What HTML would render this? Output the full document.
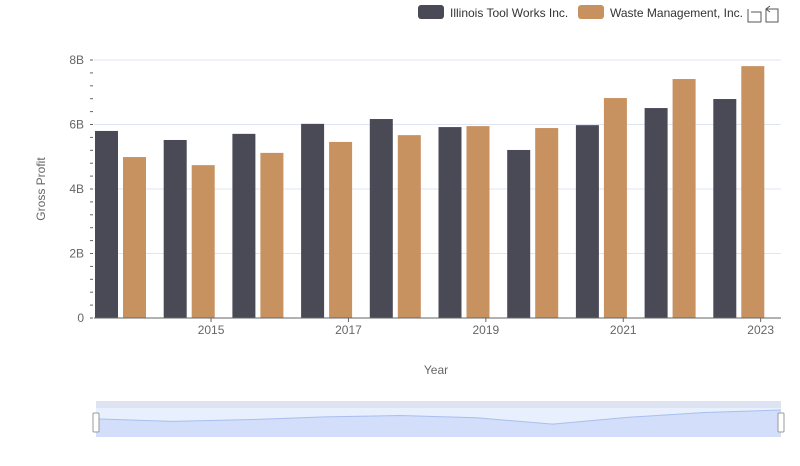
<!DOCTYPE html>
<html><head><meta charset="utf-8"><style>
body{margin:0;background:#fff;font-family:"Liberation Sans",sans-serif}
svg text{font-family:"Liberation Sans",sans-serif}
</style></head><body>
<svg id="c" width="800" height="461" xmlns="http://www.w3.org/2000/svg">
<g>
<g><rect x="418" y="5" width="26" height="14" rx="3" fill="#4a4a57"/><text x="450" y="17" font-size="12" fill="#333">Illinois Tool Works Inc.</text></g>
<g><rect x="578" y="5" width="26" height="14" rx="3" fill="#c89160"/><text x="610" y="17" font-size="12" fill="#333">Waste Management, Inc.</text></g>
<g stroke="#555" fill="none"><path d="M748 9v13h13M751 12h10v10"/></g>
<g stroke="#555" fill="none"><path d="M766 9h12v13h-12zM766 9l4 -3M766 9l4 3"/></g>
</g>
<text x="45" y="189" font-size="12" fill="#666" transform="rotate(-90 45 189)" text-anchor="middle">Gross Profit</text>
<text x="436" y="374" font-size="12" fill="#666" text-anchor="middle">Year</text>
<g id="grid"></g><g id="bars"></g><g id="axes"></g><g id="slider"></g>
</svg>
<script>
const years=[2014,2015,2016,2017,2018,2019,2020,2021,2022,2023];
const itw=[5.80,5.52,5.71,6.02,6.17,5.92,5.21,5.98,6.51,6.79];
const wm=[4.99,4.74,5.12,5.46,5.67,5.95,5.89,6.82,7.41,7.81];
const yTicks=[0,2,4,6,8];
const yTickLabels=['0','2B','4B','6B','8B'];
const xTickYears=[2015,2017,2019,2021,2023];
const NS='http://www.w3.org/2000/svg';
const X0=94,X1=781,Y0=318,Y1=60,band=(X1-X0)/years.length;
const y=v=>Y0-(v/8)*(Y0-Y1);
const xi=i=>X0+i*band;
function mk(t,a,p){const e=document.createElementNS(NS,t);for(const k in a)e.setAttribute(k,a[k]);p.appendChild(e);return e;}
const grid=document.getElementById('grid'),bars=document.getElementById('bars'),axes=document.getElementById('axes'),sl=document.getElementById('slider');
yTicks.forEach((v,i)=>{
 if(v>0){const l=mk('line',{x1:X0,x2:X1,y1:y(v),y2:y(v),stroke:'#dfe5f2'},grid);
 
 }
 const t=mk('text',{x:84,y:y(v)+4,'font-size':12,fill:'#666','text-anchor':'end'},axes);t.textContent=yTickLabels[i];
 
 
});
for(let v=0;v<=8.001;v+=0.4){mk('line',{x1:90,x2:93,y1:y(v),y2:y(v),stroke:'#666'},axes);}
years.forEach((yr,i)=>{
 const x=xi(i);
 const a=mk('rect',{x:x+1,y:y(itw[i]),width:23,height:Y0-y(itw[i]),fill:'#4a4a57'},bars);
 
 
 const b=mk('rect',{x:x+29,y:y(wm[i]),width:23,height:Y0-y(wm[i]),fill:'#c89160'},bars);
 
 
 if(xTickYears.includes(yr)){
  const cx=x+band/2+14;
  mk('line',{x1:cx,x2:cx,y1:Y0,y2:Y0+4,stroke:'#666'},axes);
  const t=mk('text',{x:cx,y:Y0+16,'font-size':12,fill:'#666','text-anchor':'middle'},axes);t.textContent=yr;
  
  
 }
});
mk('line',{x1:X0,x2:X1,y1:Y0,y2:Y0,stroke:'#666'},axes);
// slider
const S0=96,S1=781,ST=408,SB=437;
mk('rect',{x:S0,y:401,width:S1-S0,height:7,fill:'#dde3f1'},sl);
const sb=mk('rect',{x:S0,y:ST,width:S1-S0,height:SB-ST,fill:'#e8effd'},sl);


const mx=Math.max(...itw),mn=0;
const sy=v=>SB-(v-4)/(mx-4)*(SB-ST-4)-2;
let pts=itw.map((v,i)=>[S0+i*(S1-S0)/(itw.length-1),sy(v)]);
let d='M'+pts.map(p=>p.join(',')).join('L');
mk('path',{d:d+`L${S1},${SB}L${S0},${SB}Z`,fill:'#d2defa'},sl);
mk('path',{d:d,fill:'none',stroke:'#a9bff0'},sl);
[S0,S1].forEach((hx,k)=>{const h=mk('rect',{x:hx-3,y:413,width:6,height:19,fill:'#fff',stroke:'#999',rx:1},sl);
 
 });
</script>
</body></html>
